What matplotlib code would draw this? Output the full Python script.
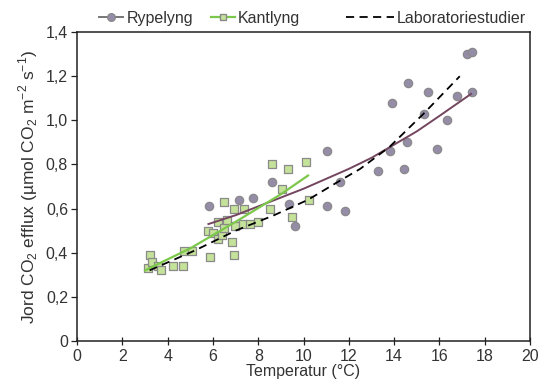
import matplotlib
matplotlib.use('Agg')
import matplotlib.pyplot as plt
from matplotlib.ticker import FixedLocator

plt.rcParams['font.family'] = ['Liberation Sans', 'DejaVu Sans']
plt.rcParams['mathtext.fontset'] = 'custom'
plt.rcParams['mathtext.rm'] = 'Liberation Sans'

# Rypelyng (circles)
ryp_x = [5.83, 7.15, 7.77, 8.61, 9.36, 9.62, 11.04, 11.04, 11.61, 11.84, 13.29, 13.82,
         14.44, 14.57, 13.91, 14.61, 15.32, 15.50, 15.89, 16.34, 16.78, 17.44, 17.22, 17.44]
ryp_y = [0.61, 0.64, 0.65, 0.72, 0.62, 0.52, 0.86, 0.61, 0.72, 0.59, 0.77, 0.86,
         0.78, 0.90, 1.08, 1.17, 1.03, 1.13, 0.87, 1.00, 1.11, 1.13, 1.30, 1.31]

# Kantlyng (squares)
kant_x = [3.13, 3.22, 3.31, 3.58, 3.71, 4.24, 4.68, 4.72, 5.08, 5.78, 6.00, 6.23, 6.23,
          6.40, 6.49, 6.62, 6.49, 6.93, 7.37, 6.98, 7.33, 7.64, 7.99, 6.84, 6.93, 5.87,
          8.52, 8.61, 9.32, 10.11, 9.05, 10.24, 9.49]
kant_y = [0.33, 0.39, 0.36, 0.34, 0.32, 0.34, 0.34, 0.41, 0.41, 0.50, 0.49, 0.54, 0.46,
          0.48, 0.51, 0.55, 0.63, 0.60, 0.60, 0.52, 0.53, 0.53, 0.54, 0.45, 0.39, 0.38,
          0.60, 0.80, 0.78, 0.81, 0.69, 0.64, 0.56]

# fitted curves
ryp_fit_x = [5.8, 7, 8, 9, 10, 11, 12, 13, 14, 15, 16, 17.4]
ryp_fit_y = [0.53, 0.57, 0.61, 0.65, 0.69, 0.735, 0.78, 0.83, 0.89, 0.95, 1.02, 1.12]
kant_fit_x = [3.0, 5.0, 7.0, 9.0, 10.2]
kant_fit_y = [0.32, 0.42, 0.54, 0.665, 0.75]
lab_x = [3.2, 5.2, 7.0, 8.7, 10.2, 11.5, 12.5, 13.8, 15.3, 16.9]
lab_y = [0.32, 0.41, 0.50, 0.57, 0.64, 0.72, 0.78, 0.88, 1.03, 1.20]

xticks = [0, 2, 4, 6, 8, 10, 12, 14, 16, 18, 20]
yticks = [0, 0.2, 0.4, 0.6, 0.8, 1.0, 1.2, 1.4]
ylabels = ['0', '0,2', '0,4', '0,6', '0,8', '1,0', '1,2', '1,4']

purple_fill = '#958ca8'
purple_line = '#73465f'
green_fill = '#c5e29a'
green_line = '#7cc84a'
edge_grey = '#8a8a8a'
txt = '#333333'
fs = 11.5

fig = plt.figure(figsize=(5.43, 3.87), dpi=100)
ax = fig.add_axes([0.142, 0.119, 0.834, 0.798])

ax.scatter(kant_x, kant_y, marker='s', s=30, facecolor=green_fill, edgecolor=edge_grey,
           linewidth=0.9, zorder=2)
ax.scatter(ryp_x, ryp_y, marker='o', s=36, facecolor=purple_fill, edgecolor=edge_grey,
           linewidth=0.9, zorder=2)
ax.plot(ryp_fit_x, ryp_fit_y, color=purple_line, lw=1.4, zorder=3)
ax.plot(kant_fit_x, kant_fit_y, color=green_line, lw=1.6, zorder=3)
ax.plot(lab_x, lab_y, color='black', lw=1.3, ls=(0, (4.5, 3)), zorder=3)

ax.set_xlim(0, 20)
ax.set_ylim(0, 1.4)
ax.xaxis.set_major_locator(FixedLocator(xticks))
ax.yaxis.set_major_locator(FixedLocator(yticks))
ax.set_yticklabels(ylabels)
ax.tick_params(axis='both', labelsize=fs, labelcolor=txt, color='#222222',
               length=4, width=0.9, pad=2.5)
ax.tick_params(axis='x', direction='inout', length=6)
for sp in ax.spines.values():
    sp.set_linewidth(1.1)
    sp.set_color('#222222')

ax.set_xlabel('Temperatur (°C)', fontsize=fs, color=txt, labelpad=0)
ax.set_ylabel('Jord CO$_2$ efflux (µmol CO$_2$ m$^{-2}$ s$^{-1}$)', fontsize=12.5,
              color=txt, labelpad=4)

h1, = ax.plot([], [], color='#777777', marker='o', ms=5.5, mfc=purple_fill, mec=edge_grey, lw=1.4)
h2, = ax.plot([], [], color=green_line, marker='s', ms=5, mfc=green_fill, mec=edge_grey, lw=1.6)
h3, = ax.plot([], [], color='black', lw=1.3, ls=(0, (4.5, 3)))

leg1 = ax.legend([h1, h2], ['Rypelyng', 'Kantlyng'], ncol=2, frameon=False,
                 loc='lower left', bbox_to_anchor=(0.035, 1.0), fontsize=fs,
                 handlelength=1.5, handletextpad=0.2, columnspacing=1.1,
                 borderaxespad=0, labelcolor=txt)
ax.add_artist(leg1)
ax.legend([h3], ['Laboratoriestudier'], frameon=False, loc='lower right',
          bbox_to_anchor=(1.005, 1.0), fontsize=fs, handlelength=3.0,
          handletextpad=0.2, borderaxespad=0, labelcolor=txt)

fig.savefig('out.png', dpi=100)
